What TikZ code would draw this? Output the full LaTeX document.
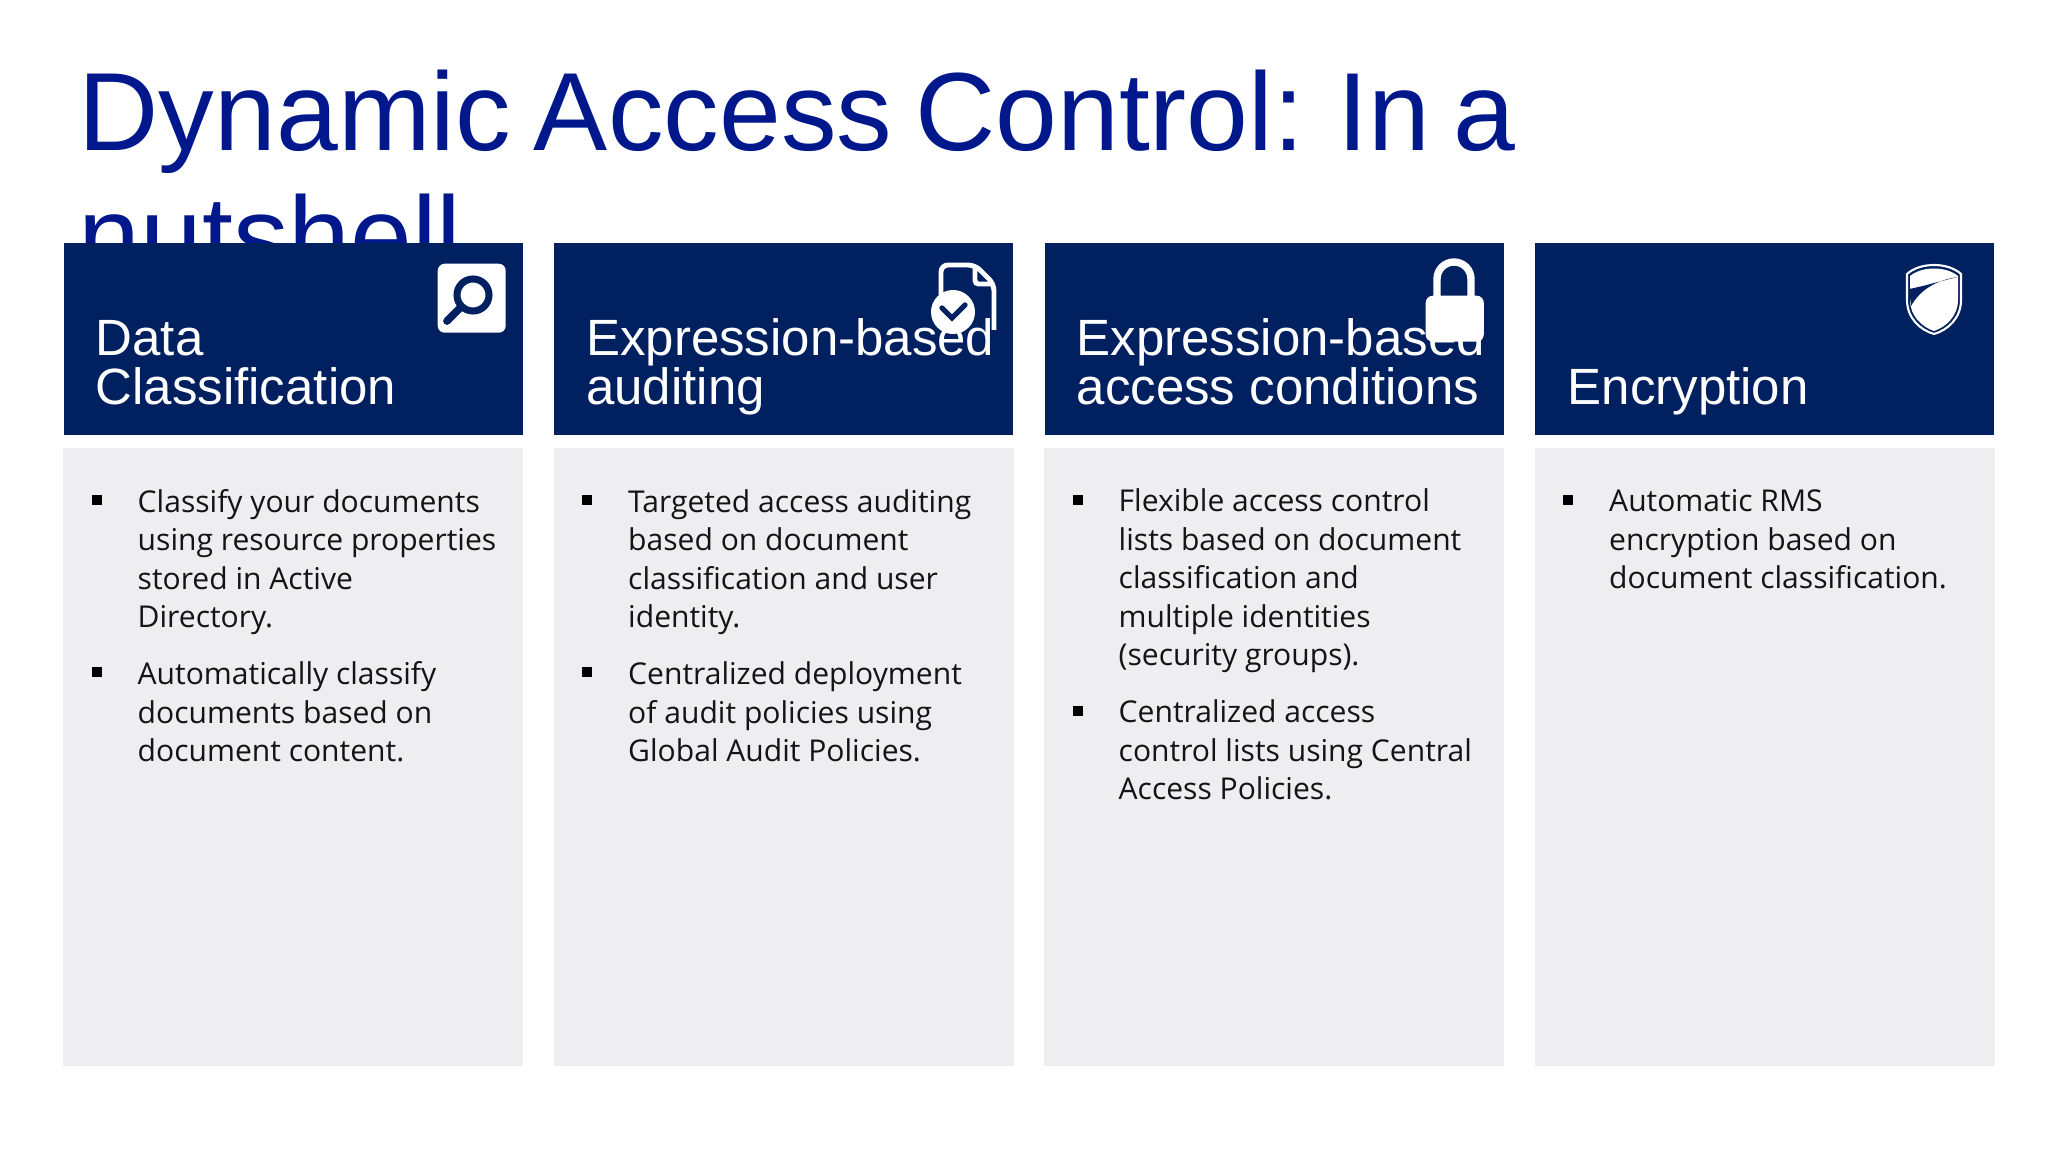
\documentclass[tikz,border=0pt]{standalone}
\usepackage{fontspec}
\setmainfont{Liberation Sans}
\newfontfamily\titlefont[WordSpace=0.75]{Liberation Sans}
\newfontfamily\bodyfont{Open Sans}
\usetikzlibrary{calc}
\definecolor{headblue}{HTML}{00205F}
\definecolor{titleblue}{HTML}{00188C}
\definecolor{bodygrey}{HTML}{EEEEF0}
\tikzset{
    titletext/.style={anchor=base west, inner sep=0pt, text=titleblue, font=\titlefont\fontsize{31.6pt}{39pt}\selectfont},
    headbox/.style={anchor=north west, inner sep=0pt, fill=headblue, minimum width=4.59cm, minimum height=1.92cm},
    bodybox/.style={anchor=north west, inner sep=0pt, fill=bodygrey, minimum width=4.6cm, minimum height=6.18cm},
    headtext/.style={anchor=base west, inner sep=0pt, align=left, text=white, font=\fontsize{14.5pt}{14pt}\selectfont},
    bodytext/.style={anchor=base west, inner sep=0pt, align=left, text=black!92, font=\bodyfont\fontsize{8.55pt}{10.92pt}\selectfont},
    bulletmark/.style={inner sep=0pt, fill=black, minimum size=0.1cm},
}
\begin{document}
\begin{tikzpicture}[x=0.01cm, y=-0.01cm]
    \useasboundingbox (0,0) rectangle (2048,1152);

    % title, second line runs under the header boxes
    \node[titletext] (title0) at (78,151) {Dynamic Access Control: In a};
    \node[titletext] (title1) at (78,275) {nutshell};

    % header and body boxes
    \foreach \i/\x in {0/63,1/553.5,2/1044,3/1534.5} {
        \node[bodybox] (body\i) at ($(\x,447) + (-0.5,0)$) {};
        \node[headbox] (head\i) at (\x,242) {};
    }

    % header labels
    \node[headtext] (label0) at (95,404.5) {Data\\Classification};
    \node[headtext] (label1) at (585.5,404.5) {Expression-based\\auditing};
    \node[headtext] (label2) at (1076,404.5) {Expression-based\\access conditions};
    \node[headtext] (label3) at (1567,404.5) {Encryption};

    % column 1
    \node[bodytext] (text00) at (137,627.5) {Classify your documents\\using resource properties\\stored in Active\\Directory.};
    \node[bodytext] (text01) at (137,761.5) {Automatically classify\\documents based on\\document content.};

    % column 2
    \node[bodytext] (text10) at (627.5,627.5) {Targeted access auditing\\based on document\\classification and user\\identity.};
    \node[bodytext] (text11) at (627.5,761.5) {Centralized deployment\\of audit policies using\\Global Audit Policies.};

    % column 3
    \node[bodytext] (text20) at (1118,665.5) {Flexible access control\\lists based on document\\classification and\\multiple identities\\(security groups).};
    \node[bodytext] (text21) at (1118,799.5) {Centralized access\\control lists using Central\\Access Policies.};

    % column 4
    \node[bodytext] (text30) at (1608.5,588.5) {Automatic RMS\\encryption based on\\document classification.};

    % bullets
    \foreach \x/\y/\n in {97/500/a,97/672/b,587/500/c,587/672/d,1078/500/e,1078/711/f,1568/500/g} {
        \node[bulletmark] (mark\n) at (\x,\y) {};
    }

    % magnifier icon
    \node[anchor=north west, inner sep=0pt, fill=white, rounded corners=2pt, minimum width=0.68cm, minimum height=0.69cm] (glass) at (437,263) {};
    \node[circle, draw=headblue, line width=2pt, minimum size=0.32cm, inner sep=0pt] (lens) at (473,295) {};
    \coordinate (grip) at (447,321);
    \draw[headblue, line width=2.2pt, line cap=round] (lens.225) -- (grip);

    % document icon
    \draw[white, line width=1.4pt, rounded corners=2pt] (941,295) -- (941,265) -- (975,265) -- (994,284) -- (994,330);
    \draw[white, line width=1.4pt, rounded corners=1pt] (975,265) -- (975,284) -- (994,284);
    \node[circle, fill=white, minimum size=0.44cm, inner sep=0pt] (stamp) at (953,312) {};
    \draw[headblue, line width=1.5pt, line cap=round] (942,308) -- (952,318) -- (965,305);

    % lock icon
    \draw[white, line width=2.1pt] (1437,300) -- (1437,279) arc[start angle=180, end angle=360, radius=17] -- (1471,300);
    \node[anchor=north west, inner sep=0pt, fill=white, rounded corners=2pt, minimum width=0.58cm, minimum height=0.46cm] (lock) at (1425,295) {};

    % shield icon
    \draw[white, line width=0.6pt] (1907,274) .. controls (1920,262) and (1948,262) .. (1961,274) -- (1961,300) .. controls (1961,318) and (1948,330) .. (1934,334) .. controls (1920,330) and (1907,318) .. (1907,300) -- cycle;
    \fill[white] (1910,276) .. controls (1922,266) and (1946,266) .. (1958,276) -- (1958,300) .. controls (1958,316) and (1946,327) .. (1934,331) .. controls (1922,327) and (1910,316) .. (1910,300) -- cycle;
    \fill[headblue] (1909,289) .. controls (1925,286) and (1940,281) .. (1958,277) .. controls (1936,280) and (1920,290) .. (1911,306) -- cycle;
\end{tikzpicture}
\end{document}
